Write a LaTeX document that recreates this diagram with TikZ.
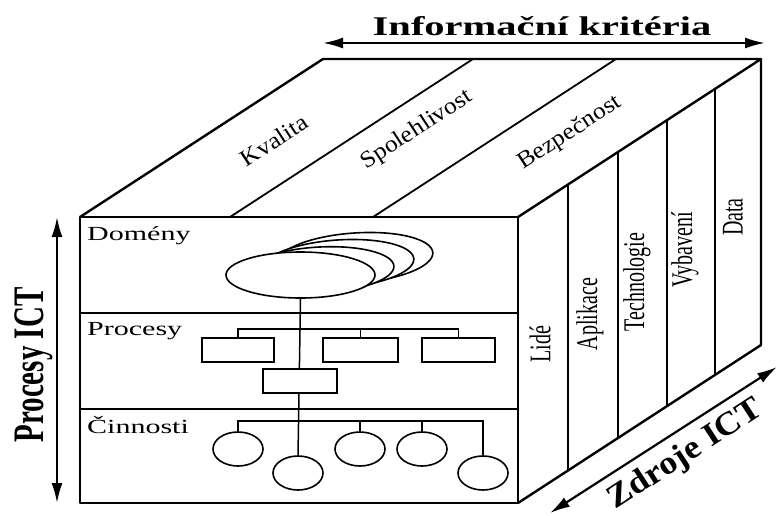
\documentclass[tikz,border=0pt]{standalone}
\usepackage{fontspec}
\setmainfont{Liberation Serif}
\usetikzlibrary{shapes.geometric,arrows.meta}
\newcommand{\hwide}[1]{\scalebox{1.5}[1]{#1}}
\newcommand{\vwide}[1]{\scalebox{1}[1.5]{#1}}
\newcommand{\dwide}[1]{\scalebox{1.28}[1.17]{#1}}
\begin{document}
\begin{tikzpicture}[x=1pt,y=-1pt,
  cubeline/.style={line width=2.4pt, line join=round},
  faceline/.style={line width=2.6pt},
  innerline/.style={line width=1.5pt},
  domell/.style={ellipse, draw, line width=1.6pt, fill=white, inner sep=0pt},
  pbox/.style={rectangle, draw, line width=1.8pt, fill=white, inner sep=0pt, minimum height=24pt},
  leafell/.style={ellipse, draw, line width=1.6pt, fill=white, inner sep=0pt, minimum width=50pt, minimum height=34pt},
  lbl/.style={inner sep=0pt, font=\fontsize{20}{24}\selectfont},
  blbl/.style={inner sep=0pt, font=\bfseries\fontsize{28}{32}\selectfont},
  dbl/.style={line width=2.2pt, {Latex[length=20pt,width=11pt]}-{Latex[length=20pt,width=11pt]}}
]
\useasboundingbox (0,0) rectangle (778,515);

% cube corners
\coordinate (ftl) at (80,217);
\coordinate (ftr) at (518,217);
\coordinate (fbr) at (518,503);
\coordinate (fbl) at (80,503);
\coordinate (btl) at (323,59);
\coordinate (btr) at (761,59);
\coordinate (bbr) at (761,345);

% top face
\draw[cubeline] (ftl) -- (btl) -- (btr) -- (ftr);
\draw[innerline, line width=1.8pt] (230,217) -- (473,59);
\draw[innerline, line width=1.8pt] (373,217) -- (616,59);
% right face
\draw[cubeline] (btr) -- (bbr) -- (fbr);
\draw[faceline] (568,184.5) -- (568,470.5);
\draw[faceline] (618,152) -- (618,438);
\draw[faceline] (667,120) -- (667,406);
\draw[faceline] (715,89) -- (715,375);
% front face
\draw[cubeline] (ftl) rectangle (fbr);
\draw[cubeline] (80,313) -- (518,313);
\draw[cubeline] (80,409) -- (518,409);

% domains (stacked ellipses)
\node[domell, minimum width=156pt, minimum height=50pt, rotate=4] (d3) at (355,258) {};
\node[domell, minimum width=152pt, minimum height=48pt, rotate=4] (d2) at (338,264) {};
\node[domell, minimum width=148pt, minimum height=46pt, rotate=3] (d1) at (320,270) {};
\node[domell, minimum width=149pt, minimum height=46pt] (d0) at (300.5,275) {};

% activities (leaf ellipses)
\node[leafell] (c1) at (238,449) {};
\node[leafell] (c2) at (298,473) {};
\node[leafell] (c3) at (360,449) {};
\node[leafell] (c4) at (422,449) {};
\node[leafell] (c5) at (483,473) {};

% trunk
\draw[innerline] (d0.south) -- (c2.north);

% processes
\node[pbox, minimum width=72pt] (p1) at (238,350) {};
\node[pbox, minimum width=75pt] (p2) at (360.5,350) {};
\node[pbox, minimum width=73pt] (p3) at (458.5,350) {};
\node[pbox, minimum width=74pt] (p0) at (300,381) {};
\coordinate (pbar) at (300,329);
\draw[innerline] (p1.north) |- (pbar) -| (p3.north);
\draw[innerline] (p2.north) -- (p2.north |- pbar);

% activity connectors
\coordinate (cbar) at (300,421);
\draw[innerline] (c1.north) |- (cbar) -| (c5.north);
\draw[innerline] (c3.north) -- (c3.north |- cbar);
\draw[innerline] (c4.north) -- (c4.north |- cbar);

% layer labels
\node[lbl, anchor=west] (tdom) at (87,236) {\hwide{Domény}};
\node[lbl, anchor=west] (tproc) at (87,331.5) {\hwide{Procesy}};
\node[lbl, anchor=west] (tcin) at (87,425) {\hwide{Činnosti}};

% top face labels
\node[lbl, rotate=33] (tkv) at (274,140) {\dwide{Kvalita}};
\node[lbl, rotate=33] (tsp) at (417,130) {\dwide{Spolehlivost}};
\node[lbl, rotate=33] (tbz) at (570,133) {\dwide{Bezpečnost}};

% right face labels
\node[lbl, rotate=90] (tli) at (540,344) {\vwide{Lidé}};
\node[lbl, rotate=90] (tap) at (590,314) {\vwide{Aplikace}};
\node[lbl, rotate=90] (tte) at (637,282) {\vwide{Technologie}};
\node[lbl, rotate=90] (tvy) at (685,250) {\vwide{Vybavení}};
\node[lbl, rotate=90] (tda) at (733,217) {\vwide{Data}};

% axis arrows and titles
\coordinate (ia) at (323,43);
\coordinate (ib) at (765,43);
\draw[dbl] (ia) -- (ib);
\node[blbl, font=\bfseries\fontsize{27}{30}\selectfont] (tinf) at (542,26) {\hwide{Informační kritéria}};

\coordinate (pa) at (57,217);
\coordinate (pb) at (57,503);
\draw[dbl] (pa) -- (pb);
\node[blbl, font=\bfseries\fontsize{29}{32}\selectfont, rotate=90] (tpict) at (34,365) {\vwide{Procesy ICT}};

\coordinate (za) at (550,513);
\coordinate (zb) at (777,367);
\draw[dbl] (za) -- (zb);
\node[blbl, rotate=33] (tzict) at (686,455) {\dwide{Zdroje ICT}};
\end{tikzpicture}
\end{document}
